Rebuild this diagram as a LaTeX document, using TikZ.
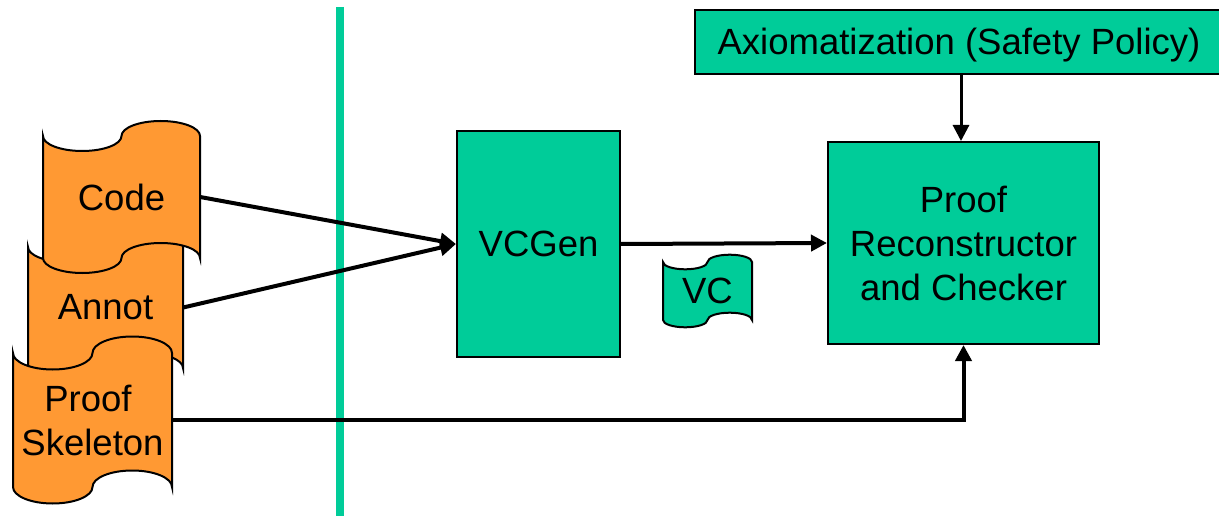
\documentclass[tikz,border=0pt]{standalone}
\usepackage{fontspec}
\setmainfont{Liberation Sans}
\usetikzlibrary{arrows.meta}
\definecolor{pgreen}{HTML}{00CC99}
\definecolor{porange}{HTML}{FF9933}
\newcommand\tapeshape[6]{%
\pgfmathsetmacro\tpL{#1}\pgfmathsetmacro\tpT{#2}\pgfmathsetmacro\tpR{#3}\pgfmathsetmacro\tpB{#4}\pgfmathsetmacro\tpr{#5}%
\pgfmathsetmacro\tpa{(\tpR-\tpL)/4}\pgfmathsetmacro\tpk{0.5523*\tpr}\pgfmathsetmacro\tpka{0.5523*\tpa}%
\draw[#6] (\tpL,\tpT)
 .. controls (\tpL,\tpT+\tpk) and (\tpL+\tpa-\tpka,\tpT+\tpr) .. (\tpL+\tpa,\tpT+\tpr)
 .. controls (\tpL+\tpa+\tpka,\tpT+\tpr) and (\tpL+2*\tpa,\tpT+\tpk) .. (\tpL+2*\tpa,\tpT)
 .. controls (\tpL+2*\tpa,\tpT-\tpk) and (\tpL+3*\tpa-\tpka,\tpT-\tpr) .. (\tpL+3*\tpa,\tpT-\tpr)
 .. controls (\tpL+3*\tpa+\tpka,\tpT-\tpr) and (\tpR,\tpT-\tpk) .. (\tpR,\tpT)
 -- (\tpR,\tpB)
 .. controls (\tpR,\tpB-\tpk) and (\tpR-\tpa+\tpka,\tpB-\tpr) .. (\tpR-\tpa,\tpB-\tpr)
 .. controls (\tpR-\tpa-\tpka,\tpB-\tpr) and (\tpR-2*\tpa,\tpB-\tpk) .. (\tpR-2*\tpa,\tpB)
 .. controls (\tpR-2*\tpa,\tpB+\tpk) and (\tpR-3*\tpa+\tpka,\tpB+\tpr) .. (\tpR-3*\tpa,\tpB+\tpr)
 .. controls (\tpR-3*\tpa-\tpka,\tpB+\tpr) and (\tpL,\tpB+\tpk) .. (\tpL,\tpB)
 -- cycle;}
\begin{document}
\begin{tikzpicture}[x=1pt,y=-1pt,
  lbl/.style={font=\fontsize{36.5}{44}\selectfont, align=center, inner sep=0pt, rectangle},
  box/.style={lbl, draw=black, line width=2pt, fill=pgreen},
  arr/.style={line width=4pt, -{Triangle[length=16pt,width=16pt]}},
  otape/.style={draw=black, line width=2pt, fill=porange},
  gtape/.style={draw=black, line width=2pt, fill=pgreen}]
\useasboundingbox (0,0) rectangle (1219,516);
\fill[white] (0,0) rectangle (1219,516);
% separator
\draw[pgreen, line width=8pt] (340,7) -- (340,516);
% tapes
\tapeshape{28}{247}{183}{368}{15}{otape}
\node[lbl, minimum width=155pt, minimum height=121pt] (annot) at (105.5,307.5) {Annot};
\tapeshape{43}{136}{200}{258}{15}{otape}
\node[lbl, minimum width=157pt, minimum height=122pt] (code) at (121.5,197) {Code};
\tapeshape{13}{353}{172}{487}{16.5}{otape}
\node[lbl, minimum width=159pt, minimum height=134pt] (skel) at (92.5,420) {Proof\hspace*{9pt}\\Skeleton};
\tapeshape{663}{262}{752}{320}{7.3}{gtape}
\node[lbl, minimum width=89pt, minimum height=58pt] (vc) at (707.5,291) {VC};
% boxes
\node[box, minimum width=163pt, minimum height=226pt] (vcg) at (538.5,244) {VCGen};
\node[box, minimum width=271pt, minimum height=202pt] (pr) at (963.5,243) {Proof\\Reconstructor\\and Checker};
\node[box, minimum width=528pt, minimum height=64pt, text height=26pt, text depth=0pt] (ax) at (959,42) {Axiomatization (Safety Policy)};
\coordinate (axx) at (961,0);
% connectors
\draw[arr] (code.east) -- (vcg.west);
\draw[arr] (annot.east) -- (vcg.west);
\draw[arr] (vcg.east) -- (pr.west);
\draw[arr] (skel.east) -| (pr.south);
\draw[arr, line width=3pt] (ax.south -| axx) -- (pr.north -| axx);
\end{tikzpicture}
\end{document}
